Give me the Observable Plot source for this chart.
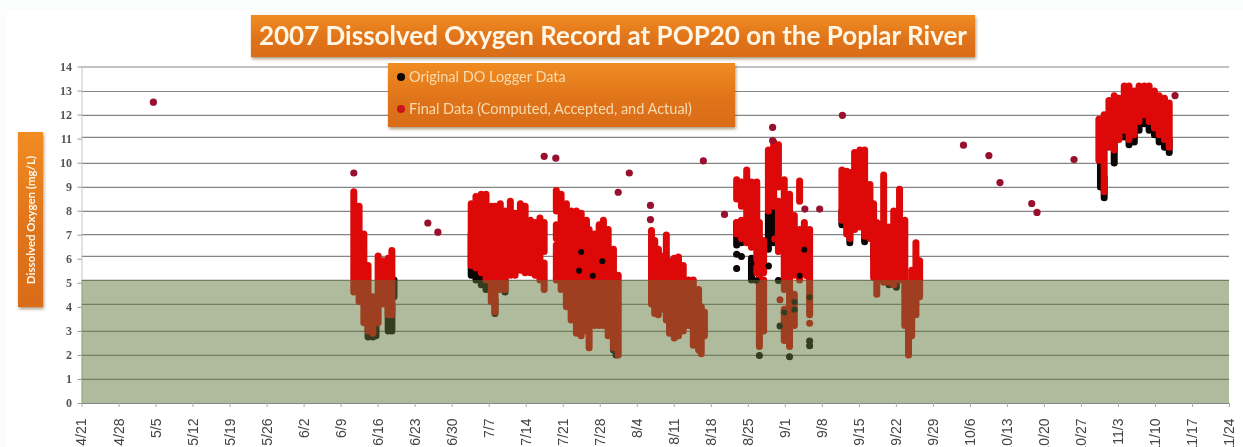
<!DOCTYPE html>
<html><head><meta charset="utf-8">
<script src="https://cdn.jsdelivr.net/npm/d3@7"></script>
<script src="https://cdn.jsdelivr.net/npm/@observablehq/plot@0.6"></script>
<style>
html,body{margin:0;padding:0;background:#fbfcfc;overflow:hidden;width:1243px;height:447px}
#wrap{position:relative;width:1243px;height:447px;overflow:hidden}
#frame{position:absolute;left:7px;top:10px;width:1236px;height:437px;background:#fff}
#chart{position:absolute;left:0;top:0;filter:blur(.45px)}
.badge{position:absolute;background:linear-gradient(#f08c22,#e0741a 55%,#d96c18);box-shadow:1px 2px 3px rgba(110,70,20,.55);color:#fff6e6;font-family:Lato,sans-serif;box-sizing:border-box;filter:blur(.4px)}
#title{left:251px;top:15px;width:724px;height:42px;font-size:26px;font-weight:700;line-height:41px;text-align:center;white-space:nowrap}
#legend{left:388px;top:63px;width:347px;height:64px;font-size:14.5px;color:#f6dcb0}
#legend div{position:absolute;left:21px;white-space:nowrap}
#legend i{position:absolute;left:-12px;top:5px;width:8px;height:8px;border-radius:50%}
#ylab{left:18px;top:132px;width:25px;height:175px;font-size:11.5px;font-weight:700}
#ylab span{position:absolute;left:12px;top:88px;transform:translate(-50%,-50%) rotate(-90deg);white-space:nowrap}
</style></head>
<body><div id="wrap"><div id="frame"></div><div id="chart"></div>
<div class="badge" id="title">2007 Dissolved Oxygen Record at POP20 on the Poplar River</div>
<div class="badge" id="legend">
<div style="top:5px"><i style="background:#0a0505"></i>Original DO Logger Data</div>
<div style="top:37px"><i style="background:#c8141a"></i>Final Data (Computed, Accepted, and Actual)</div>
</div>
<div class="badge" id="ylab"><span>Dissolved Oxygen (mg/L)</span></div>
</div>
<script>
const tickLabels = ["4/21","4/28","5/5","5/12","5/19","5/26","6/2","6/9","6/16","6/23","6/30","7/7","7/14","7/21","7/28","8/4","8/11","8/18","8/25","9/1","9/8","9/15","9/22","9/29","10/6","10/13","10/20","10/27","11/3","11/10","11/17","11/24"];
const yTicks = [0,1,2,3,4,5,6,7,8,9,10,11,12,13,14];
// where each gridline falls on the slightly uneven scanned axis
const yDrawnAt = [0,1,2,3,4.12,5.12,6.12,7.03,7.99,8.99,9.99,11.07,11.99,12.98,14];
const limitDO = 5;

// isolated readings: date, mg/L
const isolated = [["5/4.5",12.55],["6/11.4",9.6],["6/25.4",7.5],["6/27.3",7.1],["7/17.4",10.27],["7/19.6",10.2],["7/31.4",8.8],["8/2.5",9.6],["8/6.5",8.25],["8/6.5",7.65],["8/16.5",10.1],["8/20.5",7.87],["8/29.6",11.45],["8/29.6",10.88],["9/7.5",8.1],["9/4.7",8.1],["9/11.8",12],["10/4.7",10.7],["10/9.5",10.3],["10/11.6",9.2],["10/17.6",8.33],["10/18.6",7.96],["10/25.6",10.15],["11/13.7",12.83]];

// spans of the dense final record: date, low, high
const finalJune = [["6/11.4",4.5,8.8],["6/12.4",4.1,8.2],["6/13.3",3.3,7],["6/14.1",3,5.6],["6/15",2.9,4.3],["6/16",3.3,6],["6/16.9",4,5.8],["6/17.9",3.6,5.9],["6/18.6",3.6,6.25]];
const finalJuly = [["7/3.6",5.6,8.3],["7/4.5",5.5,8.6],["7/5.5",5.3,8.7],["7/6.4",5,8.7],["7/7.4",4.1,8.2],["7/8.1",3.7,8.2],["7/9.1",4.6,8.3],["7/10",4.6,8],["7/11",5.2,8.4],["7/11.9",5.2,7.9],["7/12.9",5.4,8.3],["7/13.8",5.3,8.2],["7/14.8",5.3,7.6],["7/15.7",5.2,7.5],["7/16.6",5,7.7],["7/17.4",6.2,7.5],["7/17.4",4.6,5.7]];
const finalLateJuly = [["7/19.7",8,8.85],["7/19.7",6.8,7.4],["7/19.7",5,6.5],["7/20.6",4.6,8.7],["7/21.6",3.9,8.3],["7/22.5",3.4,8],["7/23.5",2.9,8],["7/24.4",2.8,7.9],["7/25.4",3,7.6],["7/25.9",2.3,7.2],["7/26.9",3.2,7],["7/27.8",3.2,7.4],["7/28.6",3.2,7.6],["7/29.5",2.8,7.2],["7/30.5",2.3,6.3],["7/31.4",2,5.2]];
const finalAugust = [["8/6.7",4,7.15],["8/7.3",3.65,6.7],["8/8",3.6,6.3],["8/8.6",3.8,6],["8/9.5",3.4,6.95],["8/10.1",2.9,5.8],["8/11",2.7,5.9],["8/11.8",2.8,5.95],["8/12.7",3,5.6],["8/13.7",3.2,5],["8/14.6",2.4,5],["8/15.6",2.2,4.6],["8/16.1",2.05,3.9],["8/16.7",2.8,3.7]];
const finalLateAug = [["8/22.8",8.5,9.3],["8/22.8",7,7.5],["8/23.7",8.2,9.2],["8/23.7",6.8,7.6],["8/24.7",6.6,9.7],["8/25.6",6.4,9.2],["8/26.6",5.3,9.2],["8/27.1",2.35,7.5],["8/27.9",5.3,6.7],["8/27.9",3,5],["8/28.8",8,10.5],["8/29.8",8.2,10.8],["8/30.7",9,10.7],["8/30.7",6.2,8.4],["8/31.8",4.6,9.3],["8/31.8",2.6,3.8],["9/1.8",2.35,8.7],["9/2.7",5.2,7.8],["9/2.7",3.2,4.4],["9/3.7",8.4,9.25],["9/3.7",5,7.2],["9/4.6",5.3,7.5],["9/5.6",3.6,7.2]];
const finalSept = [["9/11.7",7.6,9.7],["9/12.6",7,9.65],["9/13.2",6.8,9.6],["9/14.1",7.2,10.4],["9/15.1",7.3,10.5],["9/16",6.9,10.5],["9/17",6.8,9.1],["9/17.7",5.1,8.3],["9/18.3",4.4,7.5],["9/19.2",5,7.4],["9/19.6",4.9,9.5],["9/20.6",4.9,7.3],["9/21.5",4.8,8],["9/22.6",5,8.9],["9/23.6",3.2,7.6],["9/24.3",2,4.85],["9/24.9",2.8,5.4],["9/25.7",3.6,6.6],["9/26.4",4.3,5.8]];
const finalNov = [["10/30.3",10.1,11.8],["10/31.3",8.8,12],["11/1.2",10.6,12.6],["11/2.2",10.5,12.8],["11/3.1",10.9,12.7],["11/4.1",11.3,13.2],["11/5",10.9,13.2],["11/6",11.1,13],["11/6.9",11.7,13.2],["11/7.9",12,13.2],["11/8.8",11.7,13.2],["11/9.8",11.4,13],["11/10.7",11.1,12.8],["11/11.7",10.9,12.7],["11/12.6",10.6,12.5]];

// spans of the original logger record that show beside the final record
const loggerSpans = [["6/14.1",2.75,4],["6/15",2.75,4],["6/15.6",2.8,4],["6/17.9",3,4],["6/18.6",3,4],["6/19",4.3,5],
["7/3.6",5.2,7],["7/4.5",5,6],["7/5.5",4.8,5.6],["7/6.4",4.6,5.2],["7/8.1",3.65,4.2],["7/10",4.5,5],
["7/31",2,3],["7/30.5",2.2,3],
["8/22.8",6.5,7.5],["8/23.7",6.6,7.4],["8/25.6",5,5.9],["8/28.8",6.3,7.9],["8/29.8",6.6,8.2],
["9/11.7",7.4,8],["9/13.2",6.6,7.2],["9/16",6.65,7.2],["9/17.7",5.9,6.5],["9/20.6",4.8,5.2],["9/22",4.7,5],
["10/31.3",8.55,9.4],["10/30.6",9,10.2],["11/2.2",10,10.8],["11/4.1",11,11.6],["11/5",10.7,11.4],["11/6",10.8,11.3],["11/6.9",11.3,12],["11/7.9",11.6,12.2],["11/8.8",11.3,11.9],["11/9.8",11.1,11.6],["11/10.7",10.8,11.3],["11/11.7",10.6,11.1],["11/12.6",10.4,10.9]];

// single readings where the record is sparse
const loggerDots = [["8/22.8",6.1],["8/22.8",5.5],["8/23.7",6],["8/25.6",5.7],["8/26.6",5],["8/27.1",2],["8/28.8",5.6],["8/30.7",5],["8/31.8",3.7],["8/31",3.2],["9/1.8",1.95],["9/2.7",4.1],["9/2.7",3.8],["9/3.7",5.2],["9/4.6",6.3],["9/5.6",2.6],["9/5.6",2.4],["9/5.6",4.3],["7/24.4",6.2],["7/24",5.4],["7/28.4",5.8],["7/26.6",5.2]];
const finalDots = [["8/31",4.2],["9/5.6",3.3],["8/30",6.8],["9/5",5.2]];

const parseDay = s => { const [m,d] = s.split("/").map(Number); return new Date(Date.UTC(2007,m-1,1) + (d-1)*864e5); };
const spans = a => a.map(([d,lo,hi]) => ({date:parseDay(d),lo,hi}));
const points = a => a.map(([d,v]) => ({date:parseDay(d),v}));
const finalSpans = spans([...finalJune,...finalJuly,...finalLateJuly,...finalAugust,...finalLateAug,...finalSept,...finalNov]);
const tickDates = tickLabels.map(parseDay);
const domainX = [tickDates[0],tickDates[tickDates.length-1]];
const spanOpts = {x:"date",y1:"lo",y2:"hi",strokeWidth:7,strokeLinecap:"round"};
const uneven = d3.scaleLinear(yTicks,yDrawnAt);

const plot = Plot.plot({
  width:1243,height:447,marginLeft:81.5,marginRight:14,marginTop:66.5,marginBottom:44,
  style:{background:"transparent",overflow:"visible"},
  x:{type:"utc",domain:domainX,label:null},
  y:{domain:[0,14],transform:uneven,label:null},
  marks:[
    Plot.ruleY(yTicks,{stroke:"#858585",strokeWidth:1.2,strokeOpacity:1}),
    Plot.ruleX([domainX[0]],{stroke:"#c4c4c4"}),
    Plot.ruleX(spans(loggerSpans),{...spanOpts,stroke:"#0b0505"}),
    Plot.dot(points(loggerDots),{x:"date",y:"v",r:3.5,fill:"#0b0505"}),
    Plot.ruleX(finalSpans,{...spanOpts,stroke:"#dd0808"}),
    Plot.dot(points(finalDots),{x:"date",y:"v",r:3.5,fill:"#dd0808"}),
    Plot.dot(points(loggerDots).filter(d=>d.v<7),{x:"date",y:"v",r:3,fill:"#0b0505"}),
    Plot.dot(points(isolated),{x:"date",y:"v",r:3.6,fill:"#99102f"}),
    Plot.rectY([limitDO],{x1:domainX[0],x2:domainX[1],y1:0,y2:limitDO,fill:"#61753a",fillOpacity:.5}),
    Plot.axisY({ticks:yTicks,tickSize:4,tickPadding:6,fontSize:12,fontWeight:700,color:"#555",fontFamily:"'Liberation Serif',serif",tickFormat:d=>d,stroke:"#999"}),
    Plot.axisX({ticks:tickDates,tickFormat:(d,i)=>tickLabels[i],tickRotate:-90,tickSize:4,tickPadding:11,fontSize:14,fontFamily:"'Liberation Sans',sans-serif",color:"#444",stroke:"#aaa"})
  ]
});
document.getElementById("chart").append(plot);
</script>
</body></html>
